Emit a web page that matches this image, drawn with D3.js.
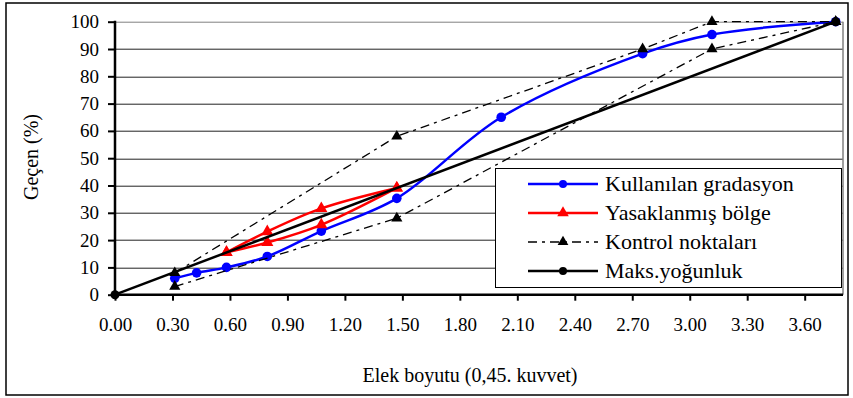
<!DOCTYPE html>
<html>
<head>
<meta charset="utf-8">
<script src="https://cdn.jsdelivr.net/npm/d3@7"></script>
</head>
<body style="margin:0">
<svg width="853" height="398"></svg>
<script>
// elek boyutlari (mm^0.45)
const elekX = [0.312, 0.426, 0.582, 0.795, 1.077, 1.471, 2.016, 2.754, 3.116, 3.762];
const kullanilanY = [6, 8, 10, 14, 23.3, 35.3, 65, 88.3, 95.3, 100];

// yasak bolge: ust ve alt sinir
const yasakX = [0.582, 0.795, 1.077, 1.471];
const yasakUstY = [15.5, 23.1, 31.6, 39.1];
const yasakAltY = [15.5, 19.1, 25.6, 39.1];

// kontrol noktalari
const kontrolUstX = [0.312, 1.471, 2.754, 3.116, 3.762];
const kontrolUstY = [8, 58, 90, 100, 100];
const kontrolAltX = [0.312, 1.471, 3.116, 3.762];
const kontrolAltY = [3, 28, 90, 100];

// maksimum yogunluk hatti
const maksX = [0, 3.762];
const maksY = [0, 100];

const xTicks = [0, 0.3, 0.6, 0.9, 1.2, 1.5, 1.8, 2.1, 2.4, 2.7, 3.0, 3.3, 3.6];
const yTicks = [0, 10, 20, 30, 40, 50, 60, 70, 80, 90, 100];

const legendItems = ["Kullanılan gradasyon", "Yasaklanmış bölge", "Kontrol noktaları", "Maks.yoğunluk"];

const zip = (xs, ys) => xs.map((x, i) => ({ x: x, y: ys[i] }));

const svg = d3.select("svg");
const width = +svg.attr("width");
const height = +svg.attr("height");

// yazilar icin ortak font
const yazi = (sel, size) => {
    sel.attr("font-family", "Liberation Serif")
        .attr("font-size", size)
        .attr("fill", "#000")
        .each(function () {
            this.style.setProperty("font-family", '"Liberation Serif"', "important");
            this.style.setProperty("font-size", size + "px", "important");
        });
    return sel;
};

// dis cerceve
svg.append("rect")
    .attr("x", 6).attr("y", 3)
    .attr("width", 842).attr("height", 392)
    .attr("fill", "none").attr("stroke", "#000").attr("stroke-width", 1.5);

const margin = { top: 21.7, bottom: 103.3, left: 115 };
const innerWidth = 843 - margin.left;
const innerHeight = height - margin.top - margin.bottom;

const xScale = d3.scaleLinear().domain([0, 3.8]).range([0, innerWidth]);
const yScale = d3.scaleLinear().domain([0, 100]).range([innerHeight, 0]);

const g = svg.append("g").attr("transform", `translate(${margin.left},${margin.top})`);

// yatay izgara
g.selectAll(".grid").data(yTicks.slice(1)).enter().append("line")
    .attr("x1", 0).attr("x2", innerWidth)
    .attr("y1", d => Math.round(yScale(d)) + 0.5)
    .attr("y2", d => Math.round(yScale(d)) + 0.5)
    .attr("stroke", d => d === 100 ? "#808080" : "#222")
    .attr("stroke-width", 1);

// sag kenar
g.append("line")
    .attr("x1", innerWidth).attr("x2", innerWidth)
    .attr("y1", 0).attr("y2", innerHeight)
    .attr("stroke", "#808080").attr("stroke-width", 1.5);

const line = d3.line().x(d => xScale(d.x)).y(d => yScale(d.y));
const smooth = d3.line().x(d => xScale(d.x)).y(d => yScale(d.y)).curve(d3.curveCatmullRom.alpha(0.5));

const tri = d3.symbol().type(d3.symbolTriangle);

// kullanilan gradasyon
const blue = "#0000ff";
g.append("path").datum(zip(elekX, kullanilanY))
    .attr("d", smooth).attr("fill", "none").attr("stroke", blue).attr("stroke-width", 2.5);
g.selectAll(".mavi").data(zip(elekX, kullanilanY)).enter().append("circle")
    .attr("cx", d => xScale(d.x)).attr("cy", d => yScale(d.y)).attr("r", 4.8).attr("fill", blue);

// yasak bolge
const red = "#ff0000";
[yasakUstY, yasakAltY].forEach(ys => {
    g.append("path").datum(zip(yasakX, ys))
        .attr("d", smooth).attr("fill", "none").attr("stroke", red).attr("stroke-width", 2.5);
    g.selectAll(null).data(zip(yasakX, ys)).enter().append("path")
        .attr("d", tri.size(64)())
        .attr("transform", d => `translate(${xScale(d.x)},${yScale(d.y)})`)
        .attr("fill", red);
});

// kontrol noktalari
[[kontrolUstX, kontrolUstY], [kontrolAltX, kontrolAltY]].forEach(([xs, ys]) => {
    g.append("path").datum(zip(xs, ys))
        .attr("d", line).attr("fill", "none").attr("stroke", "#000")
        .attr("stroke-width", 1.3).attr("stroke-dasharray", "9,5,3,5");
    g.selectAll(null).data(zip(xs, ys)).enter().append("path")
        .attr("d", tri.size(54)())
        .attr("transform", d => `translate(${xScale(d.x)},${yScale(d.y)})`)
        .attr("fill", "#000");
});

// maks yogunluk
g.append("path").datum(zip(maksX, maksY))
    .attr("d", line).attr("fill", "none").attr("stroke", "#000").attr("stroke-width", 2.5);
g.selectAll(".maks").data(zip(maksX, maksY)).enter().append("circle")
    .attr("cx", d => xScale(d.x)).attr("cy", d => yScale(d.y)).attr("r", 4.5).attr("fill", "#000");

// eksenler
const yAxis = d3.axisLeft(yScale).tickValues(yTicks).tickSize(7).tickPadding(9).tickFormat(d3.format("d"));
const yG = g.append("g").call(yAxis);
const xAxis = d3.axisBottom(xScale).tickValues(xTicks).tickSize(6).tickPadding(17).tickFormat(d3.format(".2f"));
const xG = g.append("g").attr("transform", `translate(0,${innerHeight})`).call(xAxis);

[yG, xG].forEach(a => {
    a.attr("font-family", "Liberation Serif").attr("font-size", 19);
    a.select(".domain").remove();
    a.selectAll(".tick line").attr("stroke", "#000").attr("stroke-width", 2);
    yazi(a.selectAll("text"), 19);
});
g.append("line").attr("x1", 0).attr("x2", 0).attr("y1", -1).attr("y2", innerHeight + 1)
    .attr("stroke", "#000").attr("stroke-width", 2.5);
g.append("line").attr("x1", 0).attr("x2", innerWidth).attr("y1", innerHeight).attr("y2", innerHeight)
    .attr("stroke", "#000").attr("stroke-width", 2.5);

// eksen basliklari
yazi(svg.append("text"), 20)
    .attr("transform", "translate(38,157) rotate(-90)")
    .attr("text-anchor", "middle")
    .text("Geçen (%)");
yazi(svg.append("text"), 20)
    .attr("x", 470).attr("y", 382)
    .attr("text-anchor", "middle")
    .text("Elek boyutu (0,45. kuvvet)");

// lejant
const leg = svg.append("g");
leg.append("rect")
    .attr("x", 495.5).attr("y", 168.5).attr("width", 346).attr("height", 119)
    .attr("fill", "#fff").attr("stroke", "#000").attr("stroke-width", 1);

const rowY = i => 184 + i * 29;
legendItems.forEach((name, i) => {
    const y = rowY(i);
    const row = leg.append("g");
    const l = row.append("line").attr("x1", 528).attr("x2", 598).attr("y1", y).attr("y2", y);
    if (i === 0) {
        l.attr("stroke", blue).attr("stroke-width", 2.5);
        row.append("circle").attr("cx", 563).attr("cy", y).attr("r", 4).attr("fill", blue);
    } else if (i === 1) {
        l.attr("stroke", red).attr("stroke-width", 2.5);
        row.append("path").attr("d", tri.size(58)()).attr("transform", `translate(563,${y})`).attr("fill", red);
    } else if (i === 2) {
        l.attr("stroke", "#000").attr("stroke-width", 1.3).attr("stroke-dasharray", "9,5,3,5");
        row.append("path").attr("d", tri.size(50)()).attr("transform", `translate(563,${y})`).attr("fill", "#000");
    } else {
        l.attr("stroke", "#000").attr("stroke-width", 2.5);
        row.append("circle").attr("cx", 563).attr("cy", y).attr("r", 4).attr("fill", "#000");
    }
    yazi(row.append("text"), 22).attr("x", 605).attr("y", y + 7).text(name);
});
</script>
</body>
</html>
